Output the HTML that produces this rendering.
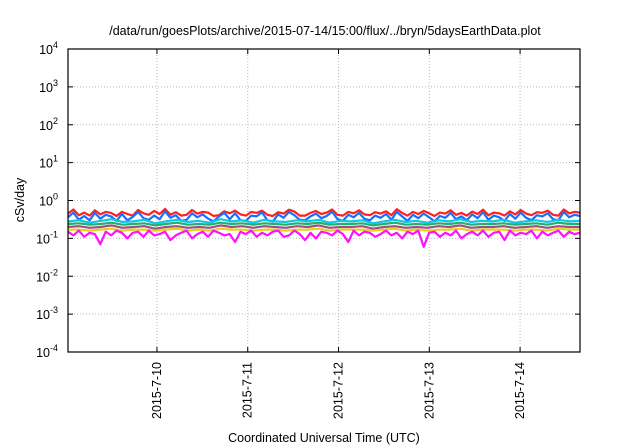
<!DOCTYPE html>
<html><head><meta charset="utf-8"><style>
body{margin:0;background:#fff;}
svg{display:block;font-family:"Liberation Sans",sans-serif;}
</style></head><body>
<svg id="chart" width="640" height="448" viewBox="0 0 640 448">
<text x="325" y="35" font-size="12.5" text-anchor="middle">/data/run/goesPlots/archive/2015-07-14/15:00/flux/../bryn/5daysEarthData.plot</text>
<text transform="translate(24,200) rotate(-90)" font-size="12.5" text-anchor="middle">cSv/day</text>
<text x="324" y="442" font-size="12.5" text-anchor="middle">Coordinated Universal Time (UTC)</text>
<g id="grid"></g><g id="series"></g><g id="axes"></g>
</svg>
<script>
const xTickDays=[10,11,12,13,14];
const xTickLabels=["2015-7-10","2015-7-11","2015-7-12","2015-7-13","2015-7-14"];
const yTickExps=[-4,-3,-2,-1,0,1,2,3,4];
const seriesNames=["red","blue","cyan","green","brown","yellow","magenta"];
const seriesColors=["#ff2020","#1a6fff","#10c8e0","#20b070","#a05080","#e8d020","#ff10ff"];
const red=[0.45,0.58,0.41,0.48,0.40,0.55,0.43,0.50,0.47,0.39,0.50,0.44,0.40,0.56,0.46,0.42,0.53,0.44,0.60,0.42,0.49,0.40,0.42,0.56,0.45,0.50,0.48,0.39,0.41,0.52,0.46,0.54,0.43,0.40,0.50,0.47,0.54,0.42,0.39,0.49,0.45,0.57,0.51,0.40,0.40,0.47,0.53,0.44,0.48,0.58,0.42,0.40,0.50,0.46,0.55,0.43,0.41,0.49,0.45,0.52,0.41,0.59,0.47,0.40,0.50,0.44,0.53,0.46,0.39,0.48,0.45,0.55,0.42,0.47,0.40,0.51,0.44,0.57,0.41,0.48,0.46,0.40,0.52,0.43,0.56,0.45,0.41,0.49,0.47,0.54,0.42,0.40,0.58,0.46,0.50,0.48];
const blue=[0.36,0.48,0.31,0.39,0.30,0.47,0.33,0.42,0.38,0.29,0.44,0.30,0.37,0.50,0.34,0.31,0.40,0.32,0.52,0.35,0.41,0.29,0.31,0.46,0.36,0.43,0.33,0.28,0.38,0.47,0.32,0.46,0.30,0.29,0.40,0.38,0.49,0.30,0.28,0.43,0.35,0.50,0.41,0.31,0.30,0.38,0.45,0.34,0.39,0.51,0.32,0.29,0.42,0.36,0.47,0.33,0.30,0.40,0.35,0.44,0.31,0.50,0.38,0.29,0.42,0.34,0.45,0.36,0.28,0.39,0.35,0.47,0.32,0.38,0.30,0.43,0.34,0.49,0.31,0.40,0.36,0.29,0.44,0.33,0.48,0.35,0.30,0.41,0.38,0.46,0.32,0.30,0.50,0.36,0.42,0.39];
const cyan=[0.28,0.30,0.26,0.29,0.32,0.27,0.28,0.31,0.25,0.28,0.31,0.27,0.29,0.26,0.32,0.28,0.30,0.26,0.31,0.28,0.27,0.30,0.28,0.31,0.26,0.29,0.28,0.30,0.25,0.28,0.31,0.27,0.29,0.26,0.30,0.28,0.32,0.27,0.29,0.28,0.31,0.26,0.28,0.30,0.27,0.31,0.28,0.29];
const green=[0.24,0.25,0.23,0.24,0.26,0.23,0.24,0.25,0.22,0.24,0.26,0.23,0.24,0.23,0.26,0.24,0.25,0.23,0.25,0.24,0.23,0.25,0.24,0.26,0.23,0.24,0.24,0.25,0.22,0.24,0.26,0.23,0.24,0.23,0.25,0.24,0.26,0.23,0.24,0.24,0.25,0.23,0.24,0.25,0.23,0.26,0.24,0.24];
const brown=[0.20,0.21,0.19,0.20,0.22,0.19,0.20,0.21,0.18,0.20,0.21,0.19,0.20,0.19,0.22,0.20,0.21,0.19,0.21,0.20,0.19,0.21,0.20,0.22,0.19,0.20,0.20,0.21,0.18,0.20,0.21,0.19,0.20,0.19,0.21,0.20,0.22,0.19,0.20,0.20,0.21,0.19,0.20,0.21,0.19,0.21,0.20,0.20];
const yellow=[0.17,0.17,0.16,0.17,0.18,0.16,0.17,0.17,0.16,0.17,0.18,0.16,0.17,0.16,0.18,0.17,0.17,0.16,0.17,0.17,0.16,0.17,0.17,0.18,0.16,0.17,0.17,0.17,0.16,0.17,0.18,0.16,0.17,0.16,0.17,0.17,0.18,0.16,0.17,0.17,0.17,0.16,0.17,0.17,0.16,0.18,0.17,0.17];
const magenta=[0.15,0.12,0.16,0.11,0.14,0.13,0.07,0.15,0.12,0.16,0.14,0.10,0.14,0.15,0.11,0.16,0.12,0.13,0.15,0.09,0.12,0.14,0.16,0.10,0.13,0.15,0.11,0.16,0.14,0.12,0.13,0.08,0.15,0.13,0.16,0.11,0.14,0.12,0.15,0.16,0.11,0.12,0.16,0.13,0.09,0.14,0.10,0.15,0.14,0.12,0.16,0.13,0.08,0.16,0.12,0.15,0.14,0.11,0.13,0.16,0.12,0.14,0.10,0.15,0.13,0.16,0.06,0.14,0.15,0.11,0.14,0.12,0.16,0.10,0.13,0.15,0.12,0.16,0.11,0.14,0.15,0.09,0.16,0.12,0.14,0.13,0.16,0.10,0.15,0.12,0.14,0.16,0.11,0.15,0.13,0.14];
const allSeries=[red,blue,cyan,green,brown,yellow,magenta];
const X0=68,X1=580,Y0=49,Y1=352,D0=9.02,D1=14.66;
const xs=d=>X0+(d-D0)/(D1-D0)*(X1-X0);
const ys=v=>Y1-(Math.log10(v)+4)/8*(Y1-Y0);
const NS="http://www.w3.org/2000/svg";
const mk=(t,a,p)=>{const e=document.createElementNS(NS,t);for(const k in a)e.setAttribute(k,a[k]);p.appendChild(e);return e;};
const grid=document.getElementById('grid'),ser=document.getElementById('series'),axes=document.getElementById('axes');
yTickExps.forEach(ex=>{const y=ys(Math.pow(10,ex));
 if(ex>-4&&ex<4){const g=mk('line',{x1:X0,x2:X1,y1:y,y2:y,stroke:'#bbb','stroke-dasharray':'1,2'},grid);
 
 }
 const t1=mk('line',{x1:X0,x2:X0+5,y1:y,y2:y,stroke:'#000'},axes);
 
 
 const t2=mk('line',{x1:X1,x2:X1-5,y1:y,y2:y,stroke:'#000'},axes);
 
 
 const tx=mk('text',{x:X0-10,y:y+5,'font-size':'12.5','text-anchor':'end'},axes);
 
 
 tx.textContent='10';
 const sp=mk('tspan',{dy:-6,'font-size':'9'},tx);sp.textContent=String(ex);
});
xTickDays.forEach((d,i)=>{const x=xs(d);
 const g=mk('line',{x1:x,x2:x,y1:Y0,y2:Y1,stroke:'#bbb','stroke-dasharray':'1,2'},grid);
 
 
 const t=mk('line',{x1:x,x2:x,y1:Y1,y2:Y1-5,stroke:'#000'},axes);
 
 
 const t2=mk('line',{x1:x,x2:x,y1:Y0,y2:Y0+5,stroke:'#000'},axes);
 
 
 const tx=mk('text',{transform:`translate(${x+4},${Y1+10}) rotate(-90)`,'font-size':'12.5','text-anchor':'end'},axes);
 
 
 tx.textContent=xTickLabels[i];
});
allSeries.forEach((arr,si)=>{const n=arr.length;
 const pts=arr.map((v,i)=>xs(D0+i*(D1-D0)/(n-1)).toFixed(1)+','+ys(v).toFixed(1)).join(' ');
 const p=mk('polyline',{points:pts,fill:'none',stroke:seriesColors[si],'stroke-width':2.2,'stroke-linejoin':'round'},ser);
 
 
});
const fr=mk('rect',{x:X0,y:Y0,width:X1-X0,height:Y1-Y0,fill:'none',stroke:'#000','stroke-width':1.2},axes);


</script>
</body></html>
